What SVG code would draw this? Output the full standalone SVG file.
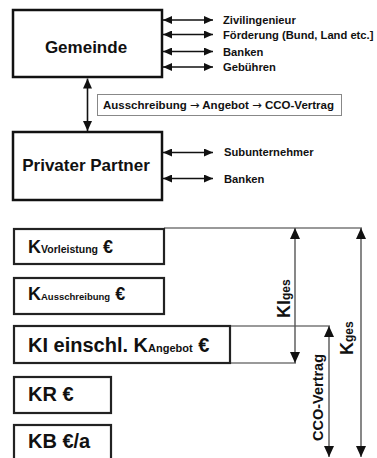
<svg xmlns="http://www.w3.org/2000/svg" width="377" height="458" viewBox="0 0 377 458">
<style>
text{font-family:"Liberation Sans",Arial,sans-serif;font-weight:bold;fill:#111}
.box{fill:#fff;stroke:#111;stroke-width:2.5}
.kbox{fill:#fff;stroke:#222;stroke-width:2.2}
.lbl{font-size:11.2px}
.ar{font-family:"DejaVu Sans",sans-serif;font-weight:normal}
.arr{stroke:#111;stroke-width:1.6;fill:none;marker-start:url(#hs);marker-end:url(#hs)}
.varr{stroke:#111;stroke-width:1.6;fill:none;marker-start:url(#hm);marker-end:url(#hm)}
.garr{stroke:#555;stroke-width:1.4;fill:none;marker-start:url(#hb);marker-end:url(#hb)}
.gl{stroke:#777;stroke-width:1.5;fill:none}
</style>
<defs>
<marker id="hs" markerUnits="userSpaceOnUse" markerWidth="9" markerHeight="8" refX="9" refY="4" orient="auto-start-reverse"><path d="M0,0 L9,4 L0,8 z" fill="#111"/></marker>
<marker id="hm" markerUnits="userSpaceOnUse" markerWidth="10" markerHeight="9" refX="10" refY="4.5" orient="auto-start-reverse"><path d="M0,0 L10,4.5 L0,9 z" fill="#111"/></marker>
<marker id="hb" markerUnits="userSpaceOnUse" markerWidth="11" markerHeight="10" refX="11" refY="5" orient="auto-start-reverse"><path d="M0,0 L11,5 L0,10 z" fill="#111"/></marker>
</defs>

<g id="connectors">
<line class="arr" x1="163" y1="20" x2="213" y2="20"/>
<line class="arr" x1="163" y1="34.5" x2="213" y2="34.5"/>
<line class="arr" x1="163" y1="51.5" x2="213" y2="51.5"/>
<line class="arr" x1="163" y1="67" x2="213" y2="67"/>
<line class="varr" x1="87.5" y1="78.5" x2="87.5" y2="131"/>
<line class="arr" x1="163" y1="152.5" x2="213" y2="152.5"/>
<line class="arr" x1="163" y1="178.5" x2="213" y2="178.5"/>
<line class="gl" x1="164" y1="228" x2="362" y2="228"/>
<line class="gl" x1="230" y1="326" x2="330" y2="326"/>
<line class="gl" x1="230" y1="363" x2="296" y2="363"/>
<line class="garr" x1="295" y1="228" x2="295" y2="363"/>
<line class="garr" x1="329" y1="326" x2="329" y2="457"/>
<line class="garr" x1="361" y1="228" x2="361" y2="457"/>
</g>

<g id="gemeinde">
<rect class="box" x="13" y="10" width="149" height="67"/>
<text x="86" y="53" font-size="17" text-anchor="middle">Gemeinde</text>
</g>
<g id="privater-partner">
<rect class="box" x="13" y="132" width="149" height="68"/>
<text x="86" y="170.5" font-size="17" text-anchor="middle">Privater Partner</text>
</g>

<g id="gemeinde-partner">
<text class="lbl" x="223" y="24">Zivilingenieur</text>
<text class="lbl" x="223" y="38.5">Förderung (Bund, Land etc.]</text>
<text class="lbl" x="223" y="55.5">Banken</text>
<text class="lbl" x="223" y="71">Gebühren</text>
<text class="lbl" x="224" y="156">Subunternehmer</text>
<text class="lbl" x="224" y="182.5">Banken</text>
</g>

<g id="ablauf">
<rect x="97.5" y="94.5" width="244" height="21" fill="#fff" stroke="#888" stroke-width="1"/>
<text x="103" y="109" font-size="11.5">Ausschreibung <tspan class="ar">→</tspan> Angebot <tspan class="ar">→</tspan> CCO-Vertrag</text>
</g>

<g id="k-vorleistung">
<rect class="kbox" x="14" y="229" width="150" height="35"/>
<text x="28" y="253" font-size="18">K<tspan font-size="10.5">Vorleistung</tspan> €</text>
</g>
<g id="k-ausschreibung">
<rect class="kbox" x="14" y="278" width="150" height="36"/>
<text x="28" y="300" font-size="18">K<tspan font-size="9.5">Ausschreibung</tspan> €</text>
</g>
<g id="ki-einschl">
<rect class="kbox" x="14" y="326" width="216" height="37"/>
<text x="28" y="352" font-size="20">KI einschl. K<tspan font-size="11">Angebot</tspan> €</text>
</g>
<g id="kr">
<rect class="kbox" x="14" y="377" width="97" height="36"/>
<text x="28" y="401" font-size="20">KR €</text>
</g>
<g id="kb">
<rect class="kbox" x="14" y="425" width="97" height="40"/>
<text x="28" y="448" font-size="20">KB €/a</text>
</g>

<g id="labels">
<text transform="translate(290,318) rotate(-90)" font-size="18">KI<tspan font-size="12">ges</tspan></text>
<text transform="translate(353,355) rotate(-90)" font-size="18">K<tspan font-size="12">ges</tspan></text>
<text transform="translate(322.5,441) rotate(-90)" font-size="14.5">CCO-Vertrag</text>
</g>
</svg>
